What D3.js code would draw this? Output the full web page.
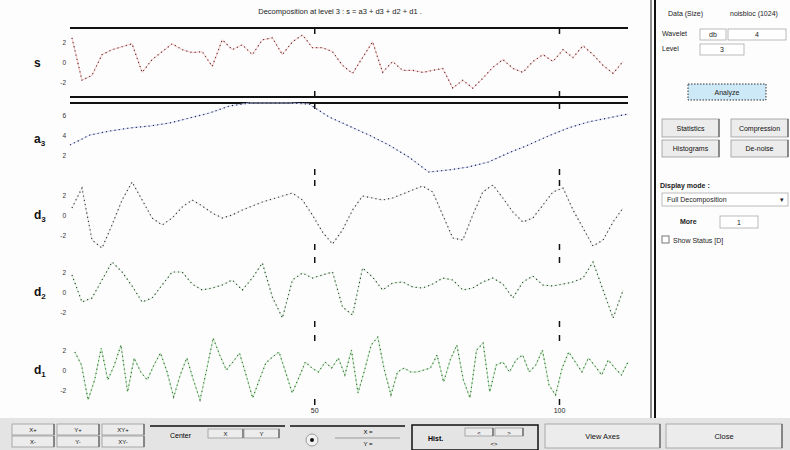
<!DOCTYPE html>
<html><head><meta charset="utf-8">
<script src="https://cdn.jsdelivr.net/npm/d3@7"></script>
<style>
html,body{margin:0;padding:0;background:#fff;}
svg{display:block;font-family:"Liberation Sans",Arial,sans-serif;}
</style></head>
<body>
<svg id="fig" width="790" height="450"></svg>
<script>
// ---- data ----
const title = "Decomposition at level 3 : s = a3 + d3 + d2 + d1 .";
const seriesNames = ["s", "a3", "d3", "d2", "d1"];
const xTicks = [50, 100];
const xTickLabels = ["50", "100"];
const sValues = [2.5,-1.8,-1.3,0.8,1.3,1.6,1.9,-1.0,0.3,1.1,1.9,1.3,1.0,1.1,-0.4,2.3,1.3,1.8,0.8,2.3,2.5,0.8,2.1,2.8,1.5,1.5,1.1,-0.3,-1.1,0.5,2.1,-1.0,0.1,-0.8,-0.8,-1.0,-0.8,-0.6,-2.6,-1.8,-2.6,-1.6,-0.5,0.3,-0.6,-1.0,0.1,0.8,0.1,1.3,0.5,1.7,0.8,-0.3,-1.1,0.1];
const a3Values = [3.0,4.0,4.4,4.7,4.9,5.2,5.7,6.2,6.9,7.2,7.2,7.2,7.1,5.8,4.9,4.0,3.0,1.8,0.3,0.5,0.8,1.3,2.2,3.0,3.9,4.7,5.3,5.7,6.1];
const d3Values = [0.7,2.7,-2.5,-3.3,-1.0,1.5,3.3,1.5,-0.3,-1.0,-0.3,0.8,1.5,0.9,0.2,-0.3,0.0,0.5,0.9,1.3,1.6,1.9,2.2,1.5,0.0,-1.7,-2.9,-1.5,0.5,1.9,1.7,1.5,1.7,2.1,2.5,2.9,2.3,0.0,-2.3,-2.5,0.0,2.3,3.0,1.7,0.3,-0.7,-0.3,1.0,2.3,2.7,0.5,-1.3,-3.1,-2.5,-0.7,0.7];
const d2Values = [1.7,-1.0,-0.6,1.2,3.0,2.0,0.6,-1.0,-0.6,0.7,2.0,2.0,0.8,0.2,0.4,0.7,1.2,0.2,1.4,2.9,-0.5,-2.6,1.2,1.9,1.4,1.7,2.0,-1.5,-2.3,2.4,1.5,0.2,0.9,1.0,0.5,0.4,0.8,1.4,1.2,0.2,0.4,1.0,1.4,0.8,-0.6,1.0,1.6,0.7,0.6,0.8,1.0,1.4,3.0,0.2,-2.6,0.2];
const d1Values = [1.8,0.5,-3.0,-1.0,2.2,-1.0,0.5,2.5,-2.2,1.2,-0.2,-1.0,0.5,1.7,-0.2,-2.7,-0.5,1.2,-1.0,-3.0,0.0,3.2,1.5,0.0,0.8,1.7,-0.5,-2.8,-1.0,0.7,1.3,1.8,-0.2,-2.3,-0.8,0.8,0.2,-0.2,0.8,0.2,1.2,-0.5,2.0,-2.3,0.0,2.5,3.3,0.0,-2.5,-0.2,0.2,-0.2,-0.2,0.0,0.2,1.5,-1.2,1.0,2.5,-1.0,-2.8,2.0,2.7,-2.2,0.5,0.8,-0.2,1.0,1.5,-0.2,0.5,2.0,-1.5,-2.5,0.2,1.8,0.8,-0.2,1.2,0.4,-0.5,1.0,0.2,-0.5,0.8];
const yTickLabels = {s:["2","0","-2"], a3:["6","4","2"], d3:["2","0","-2"], d2:["2","0","-2"], d1:["2","0","-2"]};
const yTickValues = {s:[2,0,-2], a3:[6,4,2], d3:[2,0,-2], d2:[2,0,-2], d1:[2,0,-2]};
const panelButtons = ["Statistics","Compression","Histograms","De-noise"];

// ---- layout ----
const svg = d3.select("#fig");
svg.append("rect").attr("width",790).attr("height",450).attr("fill","#fdfdfd");

const x = d3.scaleLinear().domain([0,114]).range([70,628]);
const panels = [
  {name:"s",  label:"s",  sub:"",  vals:sValues,  top:28,  bot:97,  dom:[-3.5,3.5], base:"#f2c4c4", dot:"#6a2a2a", x0:0.4, x1:113},
  {name:"a3", label:"a",  sub:"3", vals:a3Values, top:103, bot:175, dom:[0,7.2],    base:"#cdd4f2", dot:"#1a2050", x0:0,   x1:114},
  {name:"d3", label:"d",  sub:"3", vals:d3Values, top:180, bot:250, dom:[-3.5,3.5], base:"#e2e2e2", dot:"#333333", x0:0.4, x1:113},
  {name:"d2", label:"d",  sub:"2", vals:d2Values, top:257, bot:327, dom:[-3.5,3.5], base:"#d4ecd4", dot:"#2a402a", x0:0.4, x1:113},
  {name:"d1", label:"d",  sub:"1", vals:d1Values, top:335, bot:405, dom:[-3.5,3.5], base:"#b4e4b4", dot:"#3a6a3a", x0:1,   x1:114}
];

// title
svg.append("text").attr("x",340).attr("y",14).attr("text-anchor","middle")
  .attr("font-size",7.5).attr("fill","#222").text(title);

// s box lines and a3 top line
[[28],[97],[103]].forEach(([yy])=>{
  svg.append("line").attr("x1",70).attr("x2",628).attr("y1",yy).attr("y2",yy)
    .attr("stroke","#111").attr("stroke-width",2);
});

panels.forEach(p=>{
  const y = d3.scaleLinear().domain(p.dom).range([p.bot,p.top]);
  const n = p.vals.length;
  const pts = p.vals.map((v,i)=>[p.x0 + i*(p.x1-p.x0)/(n-1), v]);
  const line = d3.line().x(d=>x(d[0])).y(d=>y(d[1]));
  const g = svg.append("g");
  g.append("path").datum(pts).attr("d",line).attr("fill","none")
    .attr("stroke",p.base).attr("stroke-width",1);
  g.append("path").datum(pts).attr("d",line).attr("fill","none")
    .attr("stroke",p.dot).attr("stroke-width",1.2).attr("stroke-dasharray","1.1,3.2");
  // x ticks (inside, top and bottom)
  xTicks.forEach(t=>{
    g.append("line").attr("x1",x(t)).attr("x2",x(t)).attr("y1",p.top).attr("y2",p.top+6)
      .attr("stroke","#111").attr("stroke-width",1.5);
    g.append("line").attr("x1",x(t)).attr("x2",x(t)).attr("y1",p.bot-6).attr("y2",p.bot)
      .attr("stroke","#111").attr("stroke-width",1.5);
  });
  // y tick labels
  yTickValues[p.name].forEach((tv,i)=>{
    g.append("text").attr("x",66).attr("y",y(tv)+2.5).attr("text-anchor","end")
      .attr("font-size",6.5).attr("fill","#333").text(yTickLabels[p.name][i]);
  });
  // series label
  const t = g.append("text").attr("x",34).attr("y",(p.top+p.bot)/2+4)
    .attr("font-size",12).attr("font-weight","bold").attr("fill","#111");
  t.append("tspan").text(p.label);
  if(p.sub) t.append("tspan").attr("dy",3).attr("font-size",8).text(p.sub);
});

// bottom x tick labels
xTicks.forEach((t,i)=>{
  svg.append("text").attr("x",x(t)).attr("y",413).attr("text-anchor","middle")
    .attr("font-size",7).attr("fill","#222").text(xTickLabels[i]);
});

// right panel separator
svg.append("line").attr("x1",651).attr("x2",651).attr("y1",0).attr("y2",425).attr("stroke","#222").attr("stroke-width",1);
svg.append("line").attr("x1",655).attr("x2",655).attr("y1",0).attr("y2",425).attr("stroke","#111").attr("stroke-width",2);

// right panel controls
const rp = svg.append("g").attr("font-size",7).attr("fill","#222");
rp.append("text").attr("x",668).attr("y",16).text("Data  (Size)");
rp.append("text").attr("x",730).attr("y",16).text("noisbloc (1024)");
rp.append("text").attr("x",662).attr("y",36).text("Wavelet");
function box(g,x0,y0,w,h,txt,fill){
  g.append("rect").attr("x",x0).attr("y",y0).attr("width",w).attr("height",h)
    .attr("fill",fill||"#fff").attr("stroke","#aaa").attr("stroke-width",0.8);
  if(txt) g.append("text").attr("x",x0+w/2).attr("y",y0+h/2+2.5).attr("text-anchor","middle")
    .attr("font-size",7).attr("fill","#222").text(txt);
}
box(rp,700,29,26,11,"db");
box(rp,728,29,58,11,"4");
rp.append("text").attr("x",662).attr("y",51).text("Level");
box(rp,700,44,44,11,"3");
// Analyze button
rp.append("rect").attr("x",688).attr("y",84).attr("width",78).attr("height",16)
  .attr("fill","#cde8f6").attr("stroke","#333").attr("stroke-dasharray","1.5,1.5").attr("stroke-width",1);
rp.append("text").attr("x",727).attr("y",95).attr("text-anchor","middle").attr("font-size",7).text("Analyze");
// buttons
const btn = (g,x0,y0,w,h,txt,fs)=>{
  g.append("rect").attr("x",x0).attr("y",y0).attr("width",w).attr("height",h)
    .attr("fill","#ececec").attr("stroke","#999").attr("stroke-width",0.8);
  g.append("line").attr("x1",x0+w).attr("x2",x0+w).attr("y1",y0).attr("y2",y0+h).attr("stroke","#444");
  g.append("text").attr("x",x0+w/2).attr("y",y0+h/2+2.5).attr("text-anchor","middle")
    .attr("font-size",fs||7).attr("fill","#111").text(txt);
};
btn(rp,662,119,57,18,panelButtons[0]);
btn(rp,731,119,57,18,panelButtons[1]);
btn(rp,662,140,57,17,panelButtons[2]);
btn(rp,731,140,57,17,panelButtons[3]);
rp.append("text").attr("x",660).attr("y",188).attr("font-weight","bold").text("Display mode :");
box(rp,662,193,126,13,"");
rp.append("text").attr("x",667).attr("y",202).text("Full Decomposition");
rp.append("text").attr("x",780).attr("y",202).text("▾");
rp.append("text").attr("x",680).attr("y",224).attr("font-weight","bold").text("More");
box(rp,720,216,38,12,"1");
rp.append("rect").attr("x",662).attr("y",236).attr("width",7).attr("height",7).attr("fill","#fff").attr("stroke","#777");
rp.append("text").attr("x",673).attr("y",243).text("Show  Status  [D]");

// bottom toolbar
const bb = svg.append("g");
bb.append("rect").attr("x",0).attr("y",418).attr("width",790).attr("height",32).attr("fill","#e4e4e4");
const small = [["X+","Y+","XY+"],["X-","Y-","XY-"]];
small.forEach((row,r)=>row.forEach((lbl,c)=>{
  btn(bb,12+c*45,424+r*12,42,11,lbl,6);
}));
bb.append("line").attr("x1",150).attr("x2",285).attr("y1",426).attr("y2",426).attr("stroke","#111").attr("stroke-width",1.5);
bb.append("text").attr("x",170).attr("y",438).attr("font-size",7).text("Center");
btn(bb,208,429,35,9,"X",6);
btn(bb,244,429,35,9,"Y",6);
bb.append("line").attr("x1",290).attr("x2",405).attr("y1",426).attr("y2",426).attr("stroke","#111").attr("stroke-width",1.5);
bb.append("circle").attr("cx",312).attr("cy",440).attr("r",6).attr("fill","#f2f2f2").attr("stroke","#999");
bb.append("circle").attr("cx",312).attr("cy",440).attr("r",2).attr("fill","#111");
bb.append("text").attr("x",368).attr("y",434).attr("text-anchor","middle").attr("font-size",6).text("X =");
bb.append("line").attr("x1",335).attr("x2",400).attr("y1",438).attr("y2",438).attr("stroke","#999");
bb.append("text").attr("x",368).attr("y",446).attr("text-anchor","middle").attr("font-size",6).text("Y =");
bb.append("rect").attr("x",412).attr("y",425).attr("width",126).attr("height",25).attr("fill","none").attr("stroke","#111").attr("stroke-width",1.5);
bb.append("text").attr("x",428).attr("y",441).attr("font-size",7).attr("font-weight","bold").text("Hist.");
btn(bb,465,428,28,8,"<",6);
btn(bb,495,428,28,8,">",6);
bb.append("text").attr("x",494).attr("y",446).attr("text-anchor","middle").attr("font-size",6).text("<>");
btn(bb,545,424,115,24,"View Axes",7.5);
btn(bb,666,424,116,24,"Close",7.5);
</script>
</body></html>
